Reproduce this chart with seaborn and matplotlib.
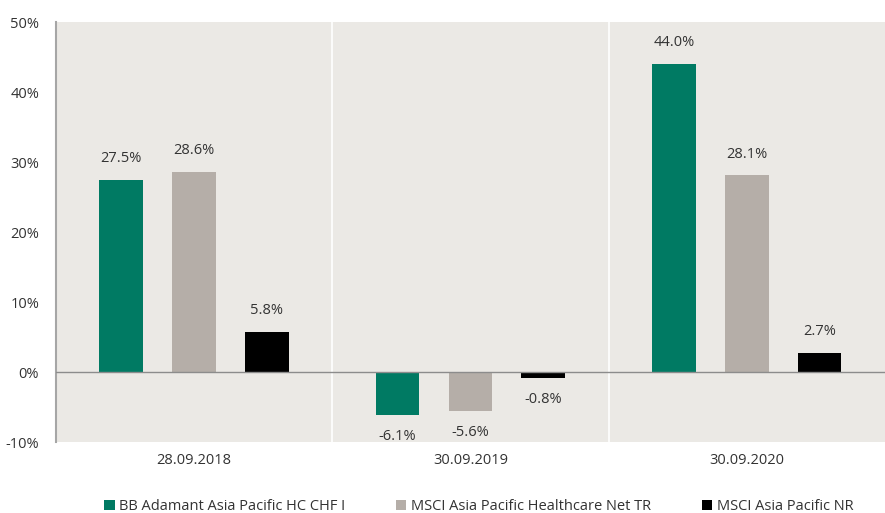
import pandas as pd
import matplotlib.pyplot as plt
import seaborn as sns

dates = ['28.09.2018', '30.09.2019', '30.09.2020']
series = ['BB Adamant Asia Pacific HC CHF I',
          'MSCI Asia Pacific Healthcare Net TR',
          'MSCI Asia Pacific NR']
fund = [27.5, -6.1, 44.0]
healthcare = [28.6, -5.6, 28.1]
broad = [5.8, -0.8, 2.7]
colors = ['#007A63', '#B5AEA8', '#000000']

df = pd.DataFrame({'date': dates * 3,
                   'label': [s for s in series for _ in dates],
                   'value': fund + healthcare + broad})

sns.set_style('white')
plt.rcParams['font.family'] = ['Open Sans', 'DejaVu Sans']
text_col = '#333333'
fs = 10.5

fig = plt.figure(figsize=(8.85, 5.13), dpi=100)
ax = fig.add_axes([0.063, 0.138, 0.937, 0.819])
ax.set_facecolor('#EBE9E5')

sns.barplot(data=df, x='date', y='value', hue='label', palette=colors,
            saturation=1, width=0.79, gap=0.4, linewidth=0, ax=ax, legend=True)

for cont in ax.containers:
    ax.bar_label(cont, fmt='%.1f%%', padding=10, fontsize=fs, color=text_col)

# category separators and zero line
for xs in [0.5, 1.5]:
    ax.axvline(xs, color='white', lw=1.2, zorder=0.5)
ax.axhline(0, color='#8C8C8C', lw=1, zorder=3)

ax.set_xlim(-0.5, 2.5)
ax.set_ylim(-10, 50)
ax.set_yticks(range(-10, 51, 10))
ax.set_yticklabels([f'{v}%' for v in range(-10, 51, 10)])
ax.set_xlabel('')
ax.set_ylabel('')
ax.tick_params(axis='both', length=0, labelsize=fs, colors=text_col)
ax.tick_params(axis='y', pad=12)
ax.tick_params(axis='x', pad=8)

for s in ['top', 'right', 'bottom']:
    ax.spines[s].set_visible(False)
ax.spines['left'].set_color('#A6A6A6')
ax.spines['left'].set_linewidth(1.5)

handles, labels = ax.get_legend_handles_labels()
ax.get_legend().remove()
fig.legend(handles, labels, loc='lower center', bbox_to_anchor=(0.541, -0.022),
           ncol=3, frameon=False, fontsize=fs, handlelength=0.7, handleheight=0.7,
           handletextpad=0.3, columnspacing=3.5, labelcolor=text_col,
           borderpad=0.2)

fig.savefig('out.png', dpi=100)
